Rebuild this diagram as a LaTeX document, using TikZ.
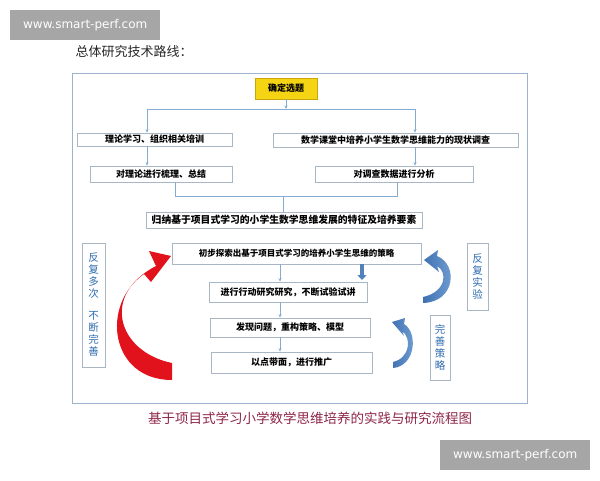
\documentclass[tikz,border=0pt]{standalone}
\usepackage{fontspec}
\setmainfont{Noto Sans CJK SC}
\newfontfamily\wmfont{DejaVu Sans}
\usepackage{xcolor}
\usetikzlibrary{arrows.meta}
\usetikzlibrary{calc}

\definecolor{frameblue}{HTML}{9DB3CF}
\definecolor{boxgray}{HTML}{A9B6C4}
\definecolor{flowblue}{HTML}{86ABD3}
\definecolor{topicyellow}{HTML}{F5D413}
\definecolor{topicedge}{HTML}{C9A70A}
\definecolor{labelblue}{HTML}{2F6DB0}
\definecolor{loopred}{HTML}{E2121C}
\definecolor{loopblue}{HTML}{3F72B3}
\definecolor{loopbluelight}{HTML}{79A4D6}
\definecolor{captionred}{HTML}{8E2548}
\definecolor{wmgray}{HTML}{A6A6A6}

\tikzset{
    stagebox/.style={draw=boxgray, line width=0.6pt, fill=white, inner sep=0pt,
        font=\bfseries\fontsize{9}{10}\selectfont},
    sidebox/.style={draw=boxgray, line width=0.6pt, fill=white, inner sep=0pt,
        text=labelblue, align=center, font=\fontsize{10.5}{12}\selectfont},
    flow/.style={draw=flowblue, line width=0.6pt, -{Stealth[length=3.5pt,width=3pt]}},
    link/.style={draw=flowblue, line width=0.6pt},
    wmbox/.style={fill=wmgray, text=white, inner sep=0pt, minimum width=150pt,
        minimum height=30pt, font=\wmfont\fontsize{12}{12}\selectfont}
}

\begin{document}
\begin{tikzpicture}[x=1pt, y=-1pt]
        \useasboundingbox (0,0) rectangle (600,480);

        % frame and titles
        \draw[frameblue, line width=0.8pt] (72,73) rectangle (527,403);
        \node[anchor=west, font=\fontsize{13}{13}\selectfont, text=black!85]
            (title) at (72,52) {总体研究技术路线：};
        \node[text=captionred, font=\fontsize{13.5}{14}\selectfont] (caption)
            at (310,418) {基于项目式学习小学数学思维培养的实践与研究流程图};

        % stages
        \node[stagebox, fill=topicyellow, draw=topicedge, minimum width=62pt,
            minimum height=21pt] (topic) at (286,88.5) {确定选题};
        \node[stagebox, minimum width=155pt, minimum height=13pt] (theory)
            at (154.5,139.5) {理论学习、组织相关培训};
        \node[stagebox, minimum width=245pt, minimum height=14pt] (survey)
            at (395.5,140) {数学课堂中培养小学生数学思维能力的现状调查};
        \node[stagebox, minimum width=142pt, minimum height=16pt] (sort)
            at (161,174) {对理论进行梳理、总结};
        \node[stagebox, minimum width=158pt, minimum height=16pt] (analyze)
            at (394,174) {对调查数据进行分析};
        \node[stagebox, minimum width=276pt, minimum height=16pt,
            font=\bfseries\fontsize{9.8}{10}\selectfont] (induce)
            at (284,220) {归纳基于项目式学习的小学生数学思维发展的特征及培养要素};
        \node[stagebox, minimum width=249pt, minimum height=21pt,
            font=\bfseries\fontsize{8.5}{10}\selectfont] (explore)
            at (296.5,253.5) {初步探索出基于项目式学习的培养小学生思维的策略};
        \node[stagebox, minimum width=158pt, minimum height=20pt] (action)
            at (288,292) {进行行动研究研究，不断试验试讲};
        \node[stagebox, minimum width=160pt, minimum height=19pt] (problem)
            at (290,327.5) {发现问题，重构策略、模型};
        \node[stagebox, minimum width=161pt, minimum height=21pt] (promote)
            at (291.5,362.5) {以点带面，进行推广};

        % side labels
        \node[sidebox, minimum width=23pt, minimum height=124pt] (repeat)
            at (93.5,305) {反\\复\\多\\次\\[10pt]不\\断\\完\\善};
        \node[sidebox, minimum width=21pt, minimum height=67pt] (retest)
            at (477.5,276.5) {反\\复\\实\\验};
        \node[sidebox, minimum width=20pt, minimum height=65pt] (refine)
            at (440,347.5) {完\\善\\策\\略};

        % connectors
        \coordinate (split) at (286,109);
        \coordinate (bl) at (147,109);
        \coordinate (br) at (415,109);
        \draw[flow] (topic) -- (split);
        \draw[link] (bl) -- (br);
        \draw[flow] (bl) -- (bl |- theory.north);
        \draw[flow] (br) -- (br |- survey.north);
        \draw[flow] (bl |- theory.south) -- (bl |- sort.north);
        \draw[flow] (br |- survey.south) -- (br |- analyze.north);

        \coordinate (jl) at (175,196);
        \coordinate (jr) at (397,196);
        \coordinate (jm) at (283,196);
        \draw[link] (jl |- sort.south) -- (jl) -- (jr) -- (jr |- analyze.south);
        \draw[link] (jm) -- (jm |- induce.north);

        \coordinate (col) at (280,0);
        \draw[flow] (col |- explore.south) -- (col |- action.north);
        \draw[flow] (col |- action.south) -- (col |- problem.north);
        \draw[flow] (col |- problem.south) -- (col |- promote.north);
        \coordinate (push) at (362,280);
        \draw[loopblue!90, line width=4pt, -{Triangle[width=9pt,length=5pt]}]
            (push |- explore.south) -- (push);

        % loop arrows
        \fill[loopred] (172,363) .. controls (118,352) and (100,295) .. (156,266)
            -- (149,251) -- (171,256) -- (151,282) -- (144,274)
            .. controls (100,305) and (110,380) .. (172,380) -- cycle;
        \shade[left color=loopblue, right color=loopbluelight]
            (423,297) .. controls (446,292) and (448,272) .. (437,266)
            -- (439,272) -- (424,260) -- (438,250) -- (437,256)
            .. controls (458,264) and (456,302) .. (423,303) -- cycle;
        \shade[left color=loopblue, right color=loopbluelight]
            (393,362) .. controls (410,358) and (412,338) .. (402,331)
            -- (404,336) -- (392,322) -- (405,318) -- (404,324)
            .. controls (418,332) and (416,366) .. (393,368) -- cycle;

        % watermarks
        \node[wmbox, anchor=north west] (wmtop) at (10,10) {www.smart-perf.com};
        \node[wmbox, anchor=north west] (wmbottom) at (440,440) {www.smart-perf.com};
\end{tikzpicture}
\end{document}
